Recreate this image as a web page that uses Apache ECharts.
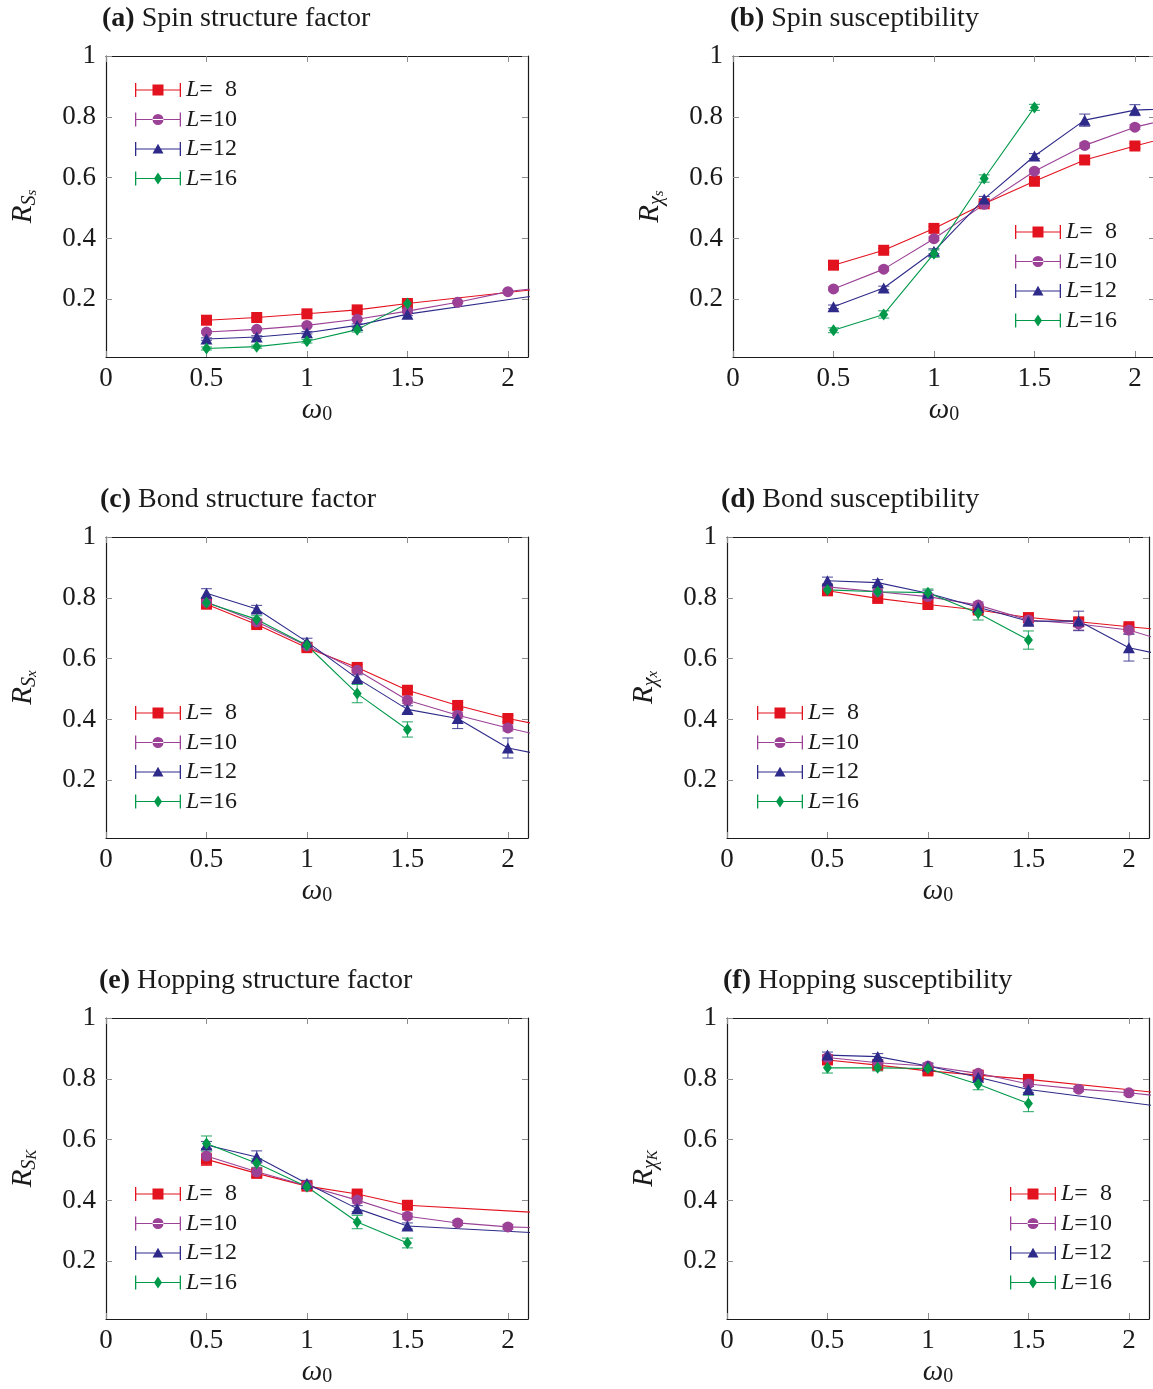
<!DOCTYPE html>
<html>
<head>
<meta charset="utf-8">
<script src="https://cdn.jsdelivr.net/npm/echarts@6/dist/echarts.min.js"></script>
<style>
  html, body { margin: 0; padding: 0; background: #fff; }
  #chart { width: 1153px; height: 1389px; }
</style>
</head>
<body>
<div id="chart"></div>
<script>
// Coupling frequencies (points beyond 2.1 only carry the lines to the frame)
const omega = [0.5, 0.75, 1, 1.25, 1.5, 1.75, 2, 2.5];
const sizeNames = ['L= 8', 'L=10', 'L=12', 'L=16'];
const xTicks = [0, 0.5, 1, 1.5, 2];
const yTicks = [0.2, 0.4, 0.6, 0.8, 1];

// (a) spin structure factor ratio, rows: L = 8, 10, 12, 16
const spinStruct = [
  [0.131, 0.140, 0.152, 0.165, 0.186, null, null, 0.259],
  [0.092, 0.101, 0.114, 0.134, 0.161, 0.190, 0.225, 0.265],
  [0.069, 0.076, 0.090, 0.114, 0.151, null, null, 0.246],
  [0.038, 0.044, 0.062, 0.100, 0.186, null, null, null]
];
const spinStructErr = [
  [0.004, 0.004, 0.004, 0.004, 0.004, null, null, null],
  [0.004, 0.004, 0.004, 0.004, 0.004, 0.004, 0.004, null],
  [0.004, 0.004, 0.004, 0.005, 0.005, null, null, null],
  [0.005, 0.005, 0.006, 0.008, 0.008, null, null, null]
];

// (b) spin susceptibility ratio
const spinSusc = [
  [0.312, 0.361, 0.433, 0.514, 0.588, 0.658, 0.704, 0.790],
  [0.234, 0.299, 0.399, 0.512, 0.621, 0.706, 0.766, 0.844],
  [0.175, 0.237, 0.358, 0.530, 0.671, 0.789, 0.822, 0.835],
  [0.098, 0.150, 0.350, 0.597, 0.831, null, null, null]
];
const spinSuscErr = [
  [0.006, 0.006, 0.006, 0.006, 0.006, 0.006, 0.008, null],
  [0.006, 0.006, 0.006, 0.006, 0.006, 0.008, 0.008, null],
  [0.006, 0.006, 0.008, 0.008, 0.008, 0.020, 0.018, null],
  [0.008, 0.012, 0.012, 0.012, 0.010, null, null, null]
];

// (c) bond structure factor ratio
const bondStruct = [
  [0.779, 0.712, 0.636, 0.571, 0.496, 0.446, 0.403, 0.338],
  [0.786, 0.721, 0.642, 0.562, 0.463, 0.414, 0.372, 0.297],
  [0.815, 0.763, 0.655, 0.535, 0.433, 0.403, 0.306, 0.241],
  [0.784, 0.729, 0.644, 0.485, 0.367, null, null, null]
];
const bondStructErr = [
  [0.012, 0.010, 0.010, 0.010, 0.010, 0.010, 0.010, null],
  [0.010, 0.010, 0.010, 0.010, 0.010, 0.010, 0.010, null],
  [0.015, 0.012, 0.012, 0.012, 0.012, 0.033, 0.033, null],
  [0.012, 0.012, 0.010, 0.030, 0.025, null, null, null]
];

// (d) bond susceptibility ratio
const bondSusc = [
  [0.823, 0.798, 0.778, 0.760, 0.735, 0.721, 0.705, 0.675],
  [0.836, 0.820, 0.804, 0.776, 0.727, 0.714, 0.694, 0.594],
  [0.856, 0.850, 0.815, 0.769, 0.723, 0.724, 0.636, 0.566],
  [0.826, 0.820, 0.817, 0.749, 0.661, null, null, null]
];
const bondSuscErr = [
  [0.008, 0.008, 0.008, 0.008, 0.008, 0.008, 0.008, null],
  [0.010, 0.010, 0.010, 0.010, 0.010, 0.020, 0.012, null],
  [0.012, 0.010, 0.010, 0.010, 0.012, 0.032, 0.044, null],
  [0.010, 0.012, 0.012, 0.022, 0.030, null, null, null]
];

// (e) hopping structure factor ratio
const hopStruct = [
  [0.535, 0.489, 0.447, 0.421, 0.384, null, null, 0.347],
  [0.546, 0.494, 0.448, 0.401, 0.348, 0.326, 0.313, 0.303],
  [0.582, 0.543, 0.456, 0.373, 0.316, null, null, 0.281],
  [0.587, 0.522, 0.445, 0.329, 0.260, null, null, null]
];
const hopStructErr = [
  [0.020, 0.012, 0.010, 0.008, 0.008, null, null, null],
  [0.022, 0.015, 0.010, 0.010, 0.010, 0.008, 0.008, null],
  [0.012, 0.020, 0.010, 0.010, 0.010, null, null, null],
  [0.025, 0.015, 0.010, 0.022, 0.016, null, null, null]
];

// (f) hopping susceptibility ratio
const hopSusc = [
  [0.862, 0.845, 0.826, 0.812, 0.798, null, null, 0.730],
  [0.870, 0.853, 0.842, 0.818, 0.783, 0.766, 0.754, 0.719],
  [0.878, 0.873, 0.842, 0.805, 0.765, null, null, 0.680],
  [0.836, 0.836, 0.834, 0.782, 0.719, null, null, null]
];
const hopSuscErr = [
  [0.010, 0.010, 0.010, 0.008, 0.008, null, null, null],
  [0.008, 0.008, 0.008, 0.008, 0.008, 0.008, 0.008, null],
  [0.010, 0.010, 0.010, 0.010, 0.010, null, null, null],
  [0.017, 0.010, 0.010, 0.018, 0.027, null, null, null]
];

const FONT = '"Liberation Serif", "DejaVu Serif", serif';
const INK = '#1a1a1a';
const colors = ['#e3121f', '#9b4196', '#2e2a89', '#00994a'];
const symbols = ['rect', 'circle', 'triangle', 'diamond'];
const symbolSizes = [11, 11, [12, 11], [9, 12]];

// panel layout: frame position, title, axis subscripts, legend position
const panels = [
  { tag: '(a)', title: 'Spin structure factor', sub: 'S', subsub: 's', vals: spinStruct, errs: spinStructErr,
    left: 106, top: 56, titleLeft: 102, legLeft: 135, legTop: 78 },
  { tag: '(b)', title: 'Spin susceptibility', sub: 'χ', subsub: 's', vals: spinSusc, errs: spinSuscErr,
    left: 733, top: 56, titleLeft: 730, legLeft: 1015, legTop: 220 },
  { tag: '(c)', title: 'Bond structure factor', sub: 'S', subsub: 'x', vals: bondStruct, errs: bondStructErr,
    left: 106, top: 537, titleLeft: 100, legLeft: 135, legTop: 701 },
  { tag: '(d)', title: 'Bond susceptibility', sub: 'χ', subsub: 'x', vals: bondSusc, errs: bondSuscErr,
    left: 727, top: 537, titleLeft: 721, legLeft: 757, legTop: 701 },
  { tag: '(e)', title: 'Hopping structure factor', sub: 'S', subsub: 'K', vals: hopStruct, errs: hopStructErr,
    left: 106, top: 1018, titleLeft: 99, legLeft: 135, legTop: 1182 },
  { tag: '(f)', title: 'Hopping susceptibility', sub: 'χ', subsub: 'K', vals: hopSusc, errs: hopSuscErr,
    left: 727, top: 1018, titleLeft: 723, legLeft: 1010, legTop: 1182 }
];
const PW = 422, PH = 301;

// legend glyph: error bar with end caps and the series marker in the middle
function legendIcon(k) {
  let p = 'M0 0H1.3V14H0Z M44.7 0H46V14H44.7Z M0 6.45H46V7.55H0Z ';
  if (k === 0) p += 'M17.5 1.5H28.5V12.5H17.5Z';
  else if (k === 1) p += 'M17.5 7A5.5 5.5 0 1 0 28.5 7A5.5 5.5 0 1 0 17.5 7Z';
  else if (k === 2) p += 'M23 1.8L28.5 11.5L17.5 11.5Z';
  else p += 'M23 1L27 7L23 13L19 7Z';
  return 'path://' + p;
}

const axisTickStyle = { show: true, inside: true, length: 6, lineStyle: { color: '#8c8c8c', width: 1 } };
const frameLine = { show: true, onZero: false, lineStyle: { color: INK, width: 1.2 } };
const tickLabel = { fontFamily: FONT, fontSize: 27, color: INK };

const grid = [], xAxis = [], yAxis = [], series = [], title = [], legend = [];

panels.forEach((pn, i) => {
  grid.push({ left: pn.left, top: pn.top, width: PW, height: PH, outerBoundsMode: 'none', containLabel: false });

  title.push({
    text: '{b|' + pn.tag + '} ' + pn.title,
    left: pn.titleLeft, top: pn.top - 54, padding: 0,
    textStyle: {
      fontFamily: FONT, fontSize: 28, fontWeight: 'normal', color: INK, lineHeight: 34,
      rich: { b: { fontFamily: FONT, fontSize: 28, fontWeight: 'bold', color: INK, lineHeight: 34 } }
    }
  });

  // bottom and top x axes
  xAxis.push({
    type: 'value', gridIndex: i, min: 0, max: 2.1, position: 'bottom',
    axisLine: frameLine,
    axisTick: Object.assign({ customValues: xTicks }, axisTickStyle),
    axisLabel: Object.assign({ customValues: xTicks, margin: 8 }, tickLabel),
    splitLine: { show: false },
    name: '{w|ω}{z|0}', nameLocation: 'middle', nameGap: 38,
    nameTextStyle: {
      rich: {
        w: { fontFamily: FONT, fontStyle: 'italic', fontSize: 29, lineHeight: 30, color: INK },
        z: { fontFamily: FONT, fontSize: 20, lineHeight: 16, verticalAlign: 'bottom', color: INK }
      }
    }
  });
  xAxis.push({
    type: 'value', gridIndex: i, min: 0, max: 2.1, position: 'top',
    axisLine: frameLine,
    axisTick: Object.assign({ customValues: xTicks }, axisTickStyle),
    axisLabel: { show: false }, splitLine: { show: false }
  });

  // left and right y axes
  yAxis.push({
    type: 'value', gridIndex: i, min: 0.01, max: 1, position: 'left',
    axisLine: frameLine,
    axisTick: Object.assign({ customValues: yTicks }, axisTickStyle),
    axisLabel: Object.assign({ customValues: yTicks, margin: 10, formatter: v => String(v) }, tickLabel),
    splitLine: { show: false },
    name: '{R|R}{S|' + pn.sub + '}{s|' + pn.subsub + '}',
    nameLocation: 'middle', nameRotate: 90, nameGap: 66,
    nameTextStyle: {
      rich: {
        R: { fontFamily: FONT, fontStyle: 'italic', fontSize: 29, lineHeight: 34, color: INK },
        S: { fontFamily: FONT, fontStyle: 'italic', fontSize: 20, lineHeight: 23, verticalAlign: 'bottom', color: INK },
        s: { fontFamily: FONT, fontStyle: 'italic', fontSize: 15, lineHeight: 10, verticalAlign: 'bottom', color: INK }
      }
    }
  });
  yAxis.push({
    type: 'value', gridIndex: i, min: 0.01, max: 1, position: 'right',
    axisLine: frameLine,
    axisTick: Object.assign({ customValues: yTicks }, axisTickStyle),
    axisLabel: { show: false }, splitLine: { show: false }
  });

  legend.push({
    left: pn.legLeft, top: pn.legTop, orient: 'vertical', padding: 0,
    itemWidth: 46, itemHeight: 14, itemGap: 5.5, itemTextGap: 7,
    selectedMode: false,
    itemStyle: { borderWidth: 0 },
    data: sizeNames.map((n, k) => ({ name: n, icon: legendIcon(k) })),
    formatter: n => '{i|L}{n|=' + (n === 'L= 8' ? '  8' : n.slice(2)) + '}',
    textStyle: {
      lineHeight: 20,
      rich: {
        i: { fontFamily: FONT, fontStyle: 'italic', fontSize: 24, lineHeight: 20, color: INK },
        n: { fontFamily: FONT, fontSize: 24, lineHeight: 20, color: INK }
      }
    }
  });

  for (let k = 0; k < 4; k++) {
    const vals = pn.vals[k], errs = pn.errs[k];
    const pts = [], bars = [];
    omega.forEach((x, j) => {
      if (vals[j] != null) pts.push([x, vals[j]]);
      if (vals[j] != null && errs[j] != null) bars.push([x, vals[j], errs[j]]);
    });
    const col = colors[k];
    // error bars
    series.push({
      type: 'custom', name: 'err' + i + '-' + k,
      xAxisIndex: 2 * i, yAxisIndex: 2 * i, clip: true, silent: true,
      encode: { x: 0, y: 1 },
      data: bars,
      renderItem: (params, api) => {
        const x = api.value(0), y = api.value(1), e = api.value(2);
        const hi = api.coord([x, y + e]), lo = api.coord([x, y - e]);
        const w = 5.5;
        const st = { stroke: col, lineWidth: 1.1, opacity: 0.8 };
        return {
          type: 'group',
          children: [
            { type: 'line', shape: { x1: hi[0], y1: hi[1], x2: lo[0], y2: lo[1] }, style: st },
            { type: 'line', shape: { x1: hi[0] - w, y1: hi[1], x2: hi[0] + w, y2: hi[1] }, style: st },
            { type: 'line', shape: { x1: lo[0] - w, y1: lo[1], x2: lo[0] + w, y2: lo[1] }, style: st }
          ]
        };
      }
    });
    // data line with markers
    series.push({
      type: 'line', name: sizeNames[k],
      xAxisIndex: 2 * i, yAxisIndex: 2 * i, clip: true,
      data: pts,
      symbol: symbols[k], symbolSize: symbolSizes[k], showAllSymbol: true,
      color: col,
      lineStyle: { color: col, width: 1.1 },
      itemStyle: { color: col, borderWidth: 0 },
      emphasis: { disabled: true },
      animation: false
    });
  }
});

const chart = echarts.init(document.getElementById('chart'), null, { renderer: 'canvas' });
chart.setOption({
  backgroundColor: '#ffffff',
  animation: false,
  textStyle: { fontFamily: FONT },
  title, grid, xAxis, yAxis, legend, series
});
</script>
</body>
</html>
